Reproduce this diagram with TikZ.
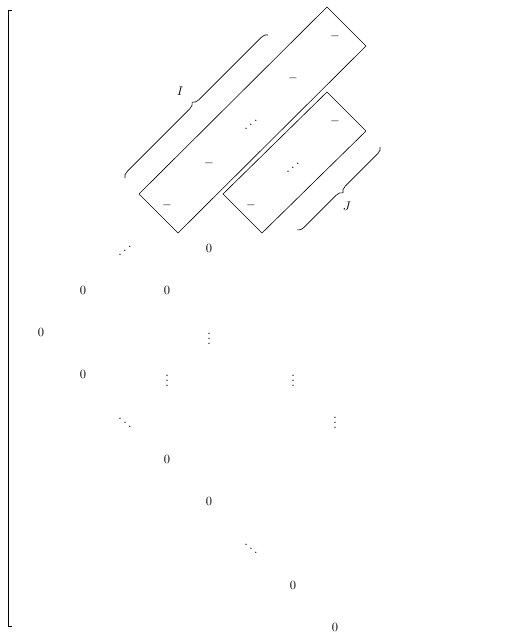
\documentclass[tikz,border=0pt]{standalone}
\usepackage{graphicx}
\usetikzlibrary{decorations.pathreplacing}
\newcommand{\myiddots}{\reflectbox{$\ddots$}}
\begin{document}
\begin{tikzpicture}[x=0.8pt,y=-0.8pt,
  entry/.style={inner sep=0pt,anchor=center},
  bandbox/.style={draw,line width=0.5pt},
  bracebox/.style={decorate,decoration={brace,amplitude=5pt},line width=0.5pt},
  delim/.style={line width=0.5pt}]
\useasboundingbox (0,0) rectangle (523,635);
% left bracket
\coordinate (bt) at (12,10);
\coordinate (bb) at (12,626);
\draw[delim] (bt) -- (8,10) -- (8,626) -- (bb);
% entries
\node[entry] (r1c8) at (335,36) {$-$};
\node[entry] (r2c7) at (293,78) {$-$};
\node[entry] (r3c6) at (251,121) {\myiddots};
\node[entry] (r3c8) at (335,121) {$-$};
\node[entry] (r4c5) at (209,163) {$-$};
\node[entry] (r4c7) at (293,164) {\myiddots};
\node[entry] (r5c4) at (167,205) {$-$};
\node[entry] (r5c6) at (251,205) {$-$};
\node[entry] (r6c3) at (125,247) {\myiddots};
\node[entry] (r6c5) at (209,248) {$0$};
\node[entry] (r7c2) at (83,290) {$0$};
\node[entry] (r7c4) at (167,290) {$0$};
\node[entry] (r8c1) at (41,332) {$0$};
\node[entry] (r8c5) at (209,335) {$\vdots$};
\node[entry] (r9c2) at (83,374) {$0$};
\node[entry] (r9c4) at (167,377) {$\vdots$};
\node[entry] (r9c7) at (293,377) {$\vdots$};
\node[entry] (r10c3) at (125,419) {$\ddots$};
\node[entry] (r10c8) at (335,419) {$\vdots$};
\node[entry] (r11c4) at (167,459) {$0$};
\node[entry] (r12c5) at (209,501) {$0$};
\node[entry] (r13c6) at (251,545) {$\ddots$};
\node[entry] (r14c7) at (293,585) {$0$};
\node[entry] (r15c8) at (335,627) {$0$};
% boxes
\coordinate (a1) at (327,7);
\coordinate (a2) at (366,46);
\coordinate (a3) at (178,233);
\coordinate (a4) at (139,194);
\draw[bandbox] (a1) -- (a2) -- (a3) -- (a4) -- cycle;
\coordinate (b1) at (327,92);
\coordinate (b2) at (366,131);
\coordinate (b3) at (262,233);
\coordinate (b4) at (223,194);
\draw[bandbox] (b1) -- (b2) -- (b3) -- (b4) -- cycle;
% braces
\coordinate (ia) at (125,178);
\coordinate (ib) at (268,35);
\draw[bracebox] (ia) -- (ib);
\node[entry] (labI) at (180,91) {$I$};
\coordinate (ja) at (380,147);
\coordinate (jb) at (297,230);
\draw[bracebox] (ja) -- (jb);
\node[entry] (labJ) at (347,206) {$J$};
\end{tikzpicture}
\end{document}
